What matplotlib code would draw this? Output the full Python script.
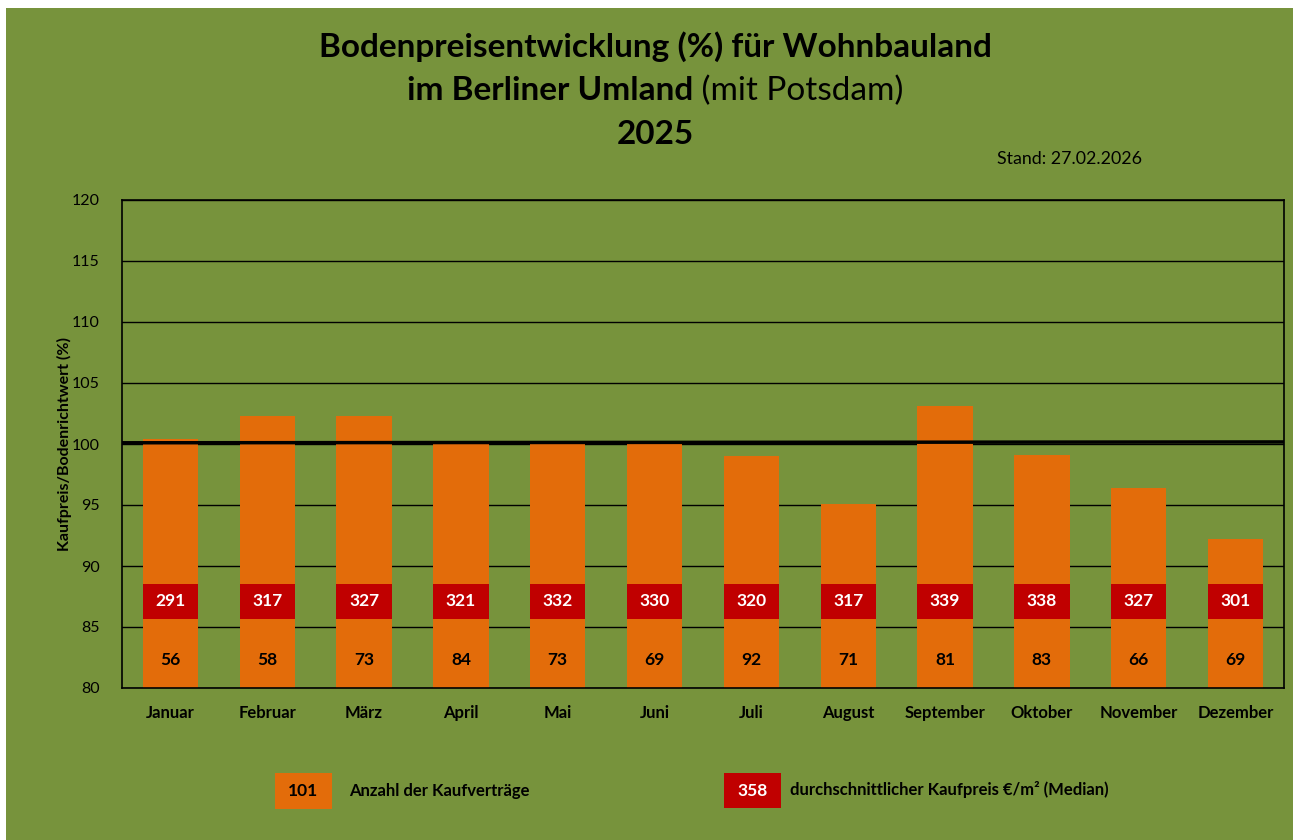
import matplotlib
matplotlib.use("Agg")
import matplotlib.pyplot as plt
from matplotlib.patches import Rectangle

# ---- data ----
months = ["Januar", "Februar", "März", "April", "Mai", "Juni", "Juli",
          "August", "September", "Oktober", "November", "Dezember"]
index_pct = [100.4, 102.3, 102.3, 100.0, 100.0, 100.0, 99.0, 95.1, 103.1, 99.1, 96.4, 92.2]
contracts = [56, 58, 73, 84, 73, 69, 92, 71, 81, 83, 66, 69]
median_price = [291, 317, 327, 321, 332, 330, 320, 317, 339, 338, 327, 301]
ref_line = [100.1, 100.17]
y_ticks = [80, 85, 90, 95, 100, 105, 110, 115, 120]
legend_count = "101"
legend_price = "358"

GREEN = "#77933C"
ORANGE = "#E36C0A"
RED = "#C00000"
FONT = "Lato"
plt.rcParams["font.family"] = [FONT, "DejaVu Sans"]

W, H = 1293, 840
fig = plt.figure(figsize=(W / 100, H / 100), dpi=100)
fig.patch.set_facecolor("white")
fig.patches.append(Rectangle((6 / W, 0), 1, 1 - 8 / H, transform=fig.transFigure,
                             facecolor=GREEN, edgecolor="none", zorder=-10))

def fx(px):
    return px / W

def fy(py):
    return 1 - py / H

ax = fig.add_axes([fx(122), fy(688), fx(1284) - fx(122), fy(200) - fy(688)])
ax.set_facecolor(GREEN)
ax.set_ylim(80, 120)
ax.set_xlim(-0.5, len(months) - 0.5)
ax.set_yticks(y_ticks)
ax.yaxis.grid(True, color="black", linewidth=1.0)
ax.set_axisbelow(True)
for s in ax.spines.values():
    s.set_color("black")
    s.set_linewidth(1.2)
ax.tick_params(axis="both", length=0)
ax.tick_params(axis="y", labelsize=11.5, pad=16)
ax.tick_params(axis="x", labelsize=12, pad=12)

x = list(range(len(months)))
bars = ax.bar(x, index_pct, width=0.57, bottom=0, color=ORANGE, zorder=2)
ax.set_ylim(80, 120)
ax.set_xticks(x)
ax.set_xticklabels(months, fontweight="bold")

# reference line near 100 %
ax.plot([-0.5, len(months) - 0.5], ref_line, color="black", linewidth=2.5, zorder=4)

# labels
box_h = 2.9
box_y = 87.1
for b, n, p in zip(bars, contracts, median_price):
    cx = b.get_x() + b.get_width() / 2
    ax.add_patch(Rectangle((b.get_x(), box_y - box_h / 2), b.get_width(), box_h,
                           facecolor=RED, edgecolor="none", zorder=3))
    ax.text(cx, box_y, str(p), ha="center", va="center", color="white",
            fontsize=12.5, fontweight="bold", zorder=5)
    ax.text(cx, 82.3, str(n), ha="center", va="center", color="black",
            fontsize=12.5, fontweight="bold", zorder=5)

ax.set_ylabel("Kaufpreis/Bodenrichtwert (%)", fontsize=11.5, fontweight="bold")
ax.yaxis.set_label_coords((72 - 122) / (1284 - 122), (688 - 444) / 488)

# titles
fig.text(fx(655), fy(47), "Bodenpreisentwicklung (%) für Wohnbauland", ha="center",
         va="center", fontsize=24, fontweight="bold")
t1 = fig.text(fx(655), fy(91), "im Berliner Umland", ha="right", va="center",
              fontsize=24, fontweight="bold")
t2 = fig.text(fx(655), fy(91), " (mit Potsdam)", ha="left", va="center",
              fontsize=24)
fig.canvas.draw()
r = fig.canvas.get_renderer()
w1 = t1.get_window_extent(r).width
w2 = t2.get_window_extent(r).width
start = 655 - (w1 + w2) / 2
t1.set_position((fx(start + w1), fy(91)))
t2.set_position((fx(start + w1), fy(91)))
fig.text(fx(655), fy(134), "2025", ha="center", va="center", fontsize=24,
         fontweight="bold")
fig.text(fx(997), fy(159), "Stand: 27.02.2026", ha="left", va="center", fontsize=12.8)

# legend
fig.patches.append(Rectangle((fx(275), fy(809)), fx(332) - fx(275), fy(773) - fy(809),
                             transform=fig.transFigure, facecolor=ORANGE,
                             edgecolor="none"))
fig.text(fx(303.5), fy(791), legend_count, ha="center", va="center", fontsize=12.5,
         fontweight="bold", color="black")
fig.text(fx(349), fy(791), "Anzahl der Kaufverträge", ha="left", va="center",
         fontsize=12, fontweight="bold")
fig.patches.append(Rectangle((fx(724), fy(808)), fx(781) - fx(724), fy(773) - fy(808),
                             transform=fig.transFigure, facecolor=RED,
                             edgecolor="none"))
fig.text(fx(752.5), fy(790.5), legend_price, ha="center", va="center", fontsize=12.5,
         fontweight="bold", color="white")
fig.text(fx(790), fy(790), "durchschnittlicher Kaufpreis €/m² (Median)", ha="left",
         va="center", fontsize=12, fontweight="bold")

fig.savefig("out.png", dpi=100, facecolor=fig.get_facecolor())
